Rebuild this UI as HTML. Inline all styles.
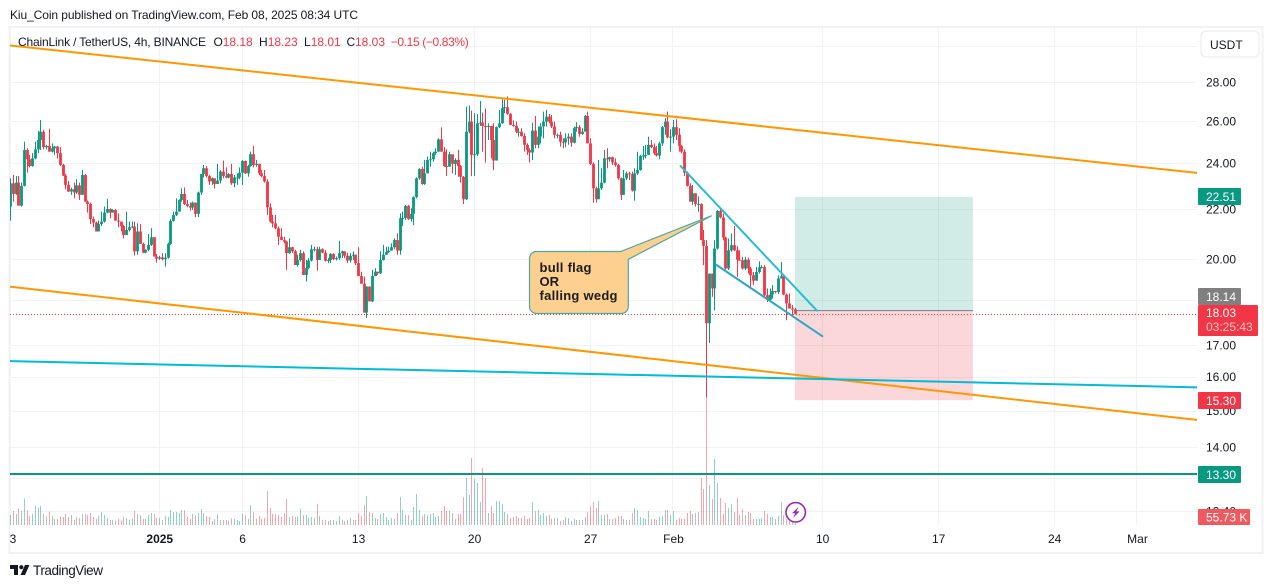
<!DOCTYPE html>
<html lang="en">
<head>
<meta charset="utf-8">
<title>ChainLink / TetherUS chart</title>
<style>
html,body{margin:0;padding:0;background:#fff;width:1273px;height:588px;overflow:hidden}
svg{display:block;font-family:"Liberation Sans",Arial,sans-serif}
</style>
</head>
<body>
<svg id="chart" xmlns="http://www.w3.org/2000/svg" width="1273" height="588" viewBox="0 0 1273 588">
  <defs>
    <clipPath id="plot-clip"><rect x="10" y="28" width="1187" height="524"/></clipPath>
  </defs>
  <rect width="1273" height="588" fill="#fff"/>
  <text x="10" y="19" font-size="12" fill="#131722" textLength="348">Kiu_Coin published on TradingView.com, Feb 08, 2025 08:34 UTC</text>
  <rect x="9.5" y="27" width="1253" height="526" fill="none" stroke="#f1f2f4" stroke-width="2"/>
  <g id="grid"></g>
  <g id="plot" clip-path="url(#plot-clip)">
    <g id="volumes"></g>
    <g id="candles"></g>
    <g id="tools"></g>
  </g>
  <g>
    <path d="M536.5 251.5H620.7L711.7 215.7L628.3 259.3V306.5a7 7 0 0 1-7 7H536.5a7 7 0 0 1-7-7V258.5a7 7 0 0 1 7-7Z" fill="#fdd08f" stroke="#4fa8a0" stroke-width="1.2"/>
    <text x="539.5" y="272" font-size="13" font-weight="700" fill="#1c1c1c" textLength="52">bull flag</text>
    <text x="539.5" y="286" font-size="13" font-weight="700" fill="#1c1c1c">OR</text>
    <text x="539.5" y="300" font-size="13" font-weight="700" fill="#1c1c1c" textLength="78">falling wedg</text>
  </g>
  <g font-size="12">
    <text x="18" y="46" fill="#131722" textLength="188">ChainLink / TetherUS, 4h, BINANCE</text>
    <text x="213.5" y="46" fill="#131722">O</text>
    <text x="222.7" y="46" fill="#f23645">18.18</text>
    <text x="259" y="46" fill="#131722">H</text>
    <text x="267.7" y="46" fill="#f23645">18.23</text>
    <text x="304" y="46" fill="#131722">L</text>
    <text x="310.7" y="46" fill="#f23645">18.01</text>
    <text x="346.5" y="46" fill="#131722">C</text>
    <text x="355" y="46" fill="#f23645">18.03</text>
    <text x="390.7" y="46" fill="#f23645" textLength="78">−0.15 (−0.83%)</text>
  </g>
  <g id="price-axis"></g>
  <g id="time-axis"></g>
  <g>
    <rect x="1201" y="31" width="58" height="26" rx="5" fill="#fff" stroke="#f0f1f4" stroke-width="1.5"/>
    <text x="1210" y="49" font-size="12" fill="#131722">USDT</text>
  </g>
  <g font-size="12" fill="#fff">
    <rect x="1198" y="188" width="43" height="17" rx="1" fill="#089981"/>
    <text x="1206" y="201">22.51</text>
    <rect x="1198" y="288" width="43" height="17" rx="1" fill="#808080"/>
    <text x="1206" y="301">18.14</text>
    <rect x="1198" y="305" width="60" height="31" rx="1" fill="#f23645"/>
    <text x="1206" y="317">18.03</text>
    <text x="1206" y="331" fill="#fbc4c8">03:25:43</text>
    <rect x="1198" y="392" width="43" height="17" rx="1" fill="#f23645"/>
    <text x="1206" y="405">15.30</text>
    <rect x="1198" y="466" width="43" height="17" rx="1" fill="#089981"/>
    <text x="1206" y="479">13.30</text>
    <rect x="1198" y="509" width="52" height="16" rx="1" fill="#f05a5f"/>
    <text x="1206" y="521.5">55.73 K</text>
  </g>
  <g>
    <circle cx="795.7" cy="512.3" r="9.7" fill="#fff" stroke="#9c27b0" stroke-width="1.6"/>
    <path d="M798.6 506.8L792 513.3h3.2L793 518l6.6-6.6h-3.2Z" fill="#9c27b0"/>
  </g>
  <g>
    <path d="M10 565h8v10h-4v-6h-4Z M29.5 565L25 575h-4.5L25 565Z" fill="#131722"/>
    <circle cx="21.3" cy="567.2" r="2.1" fill="#131722"/>
    <text x="33" y="575" font-size="13.5" fill="#131722" textLength="70">TradingView</text>
  </g>
</svg>
<script>
const firstOpen = 22.10;
const closes = [
23.10,22.64,23.13,22.14,22.99,24.61,24.18,23.87,24.22,24.64,
25.08,25.48,24.74,24.80,24.53,24.69,24.77,24.46,23.92,23.44,
23.03,22.74,22.84,22.70,23.01,22.60,23.47,22.31,22.21,21.58,
21.44,21.08,21.38,21.48,21.85,22.00,21.85,21.96,21.52,21.48,
21.30,20.94,21.14,21.25,21.28,20.30,21.08,20.59,20.25,20.36,
20.55,20.85,20.10,20.02,20.07,20.00,20.06,20.59,21.51,21.75,
21.89,22.38,22.64,22.21,22.13,22.06,22.27,21.80,22.70,23.51,
23.77,23.42,23.18,23.32,23.07,23.22,23.62,23.42,23.35,23.51,
23.10,23.36,23.36,23.57,24.10,23.54,23.87,24.41,23.92,23.97,
23.54,23.42,23.18,22.07,21.48,21.41,21.21,20.87,20.74,20.68,
20.23,20.46,20.30,19.78,19.97,20.23,19.41,19.66,19.95,20.38,
20.38,19.97,20.38,20.25,19.94,19.97,20.20,20.00,20.04,20.23,
20.30,20.13,19.95,20.13,20.17,19.85,19.37,19.09,18.07,18.99,
18.46,19.37,19.53,19.47,19.97,20.17,20.27,20.33,20.46,20.74,
20.33,21.62,21.63,22.13,21.58,21.80,22.50,23.32,23.74,23.07,
23.54,24.15,24.18,24.46,24.53,25.11,24.53,23.87,23.84,24.41,
23.97,24.15,23.87,23.39,22.41,25.48,25.97,24.38,24.41,25.89,
25.92,25.76,25.73,25.76,25.08,24.12,25.70,25.89,26.64,26.69,
26.36,25.81,25.76,25.48,25.48,25.27,24.85,24.61,24.49,25.53,
24.85,25.24,25.73,25.97,26.22,25.97,25.73,25.33,25.33,25.00,
24.97,25.16,25.24,24.95,25.65,25.70,25.37,25.48,26.25,24.92,
23.97,22.88,22.41,22.88,23.13,24.22,24.18,24.27,24.03,23.92,
23.32,22.60,23.32,23.54,23.51,22.78,23.54,23.69,24.33,24.35,
24.38,24.85,24.74,24.46,24.35,24.92,25.70,25.97,25.21,25.24,
25.70,25.33,24.80,24.53,23.57,22.99,22.31,22.67,22.21,22.21,
20.74,20.51,17.71,19.46,18.92,20.41,21.92,21.65,20.84,19.65,
20.34,20.54,20.34,19.98,19.96,19.65,19.98,19.65,19.40,19.20,
19.52,19.69,19.71,18.68,18.52,18.70,18.83,18.79,19.28,19.36,
18.70,18.39,18.21,18.18,18.03];
const highs = [
23.32,23.47,23.42,23.42,23.13,25.00,24.69,24.38,24.46,25.00,
25.52,26.05,25.57,24.85,25.62,24.92,24.80,24.80,24.74,23.97,
23.51,23.20,22.91,23.13,23.28,23.13,23.69,23.51,22.36,22.27,
21.69,21.48,21.52,21.89,22.10,22.43,22.03,21.99,21.99,21.82,
21.48,21.34,21.89,21.48,21.48,21.48,21.41,21.38,20.64,20.38,
20.98,21.21,20.85,20.20,20.13,20.23,20.23,20.64,21.58,21.89,
22.45,22.41,22.88,22.92,22.38,22.27,22.31,22.27,22.74,23.51,
23.92,23.87,23.47,23.36,23.32,23.97,23.69,24.12,23.81,23.54,
23.97,23.47,23.54,23.81,24.15,24.12,23.92,24.53,24.80,24.15,
23.92,23.69,23.69,23.28,22.24,21.76,21.76,21.28,21.21,20.87,
20.71,20.81,20.48,20.36,20.17,20.36,20.30,19.97,20.04,20.55,
20.48,20.48,20.48,20.42,20.36,20.04,20.23,20.23,20.10,20.71,
20.33,20.30,20.25,20.23,20.30,20.17,20.46,19.53,19.35,18.99,
18.99,19.60,19.66,19.53,20.30,20.55,20.48,20.48,20.61,20.81,
21.01,21.82,21.89,22.17,22.17,22.03,22.53,23.36,23.77,23.84,
24.15,24.30,24.53,24.53,24.69,25.16,25.69,24.74,24.64,24.53,
24.22,24.22,24.61,23.92,23.42,26.72,26.77,26.52,26.39,26.35,
27.01,26.42,26.63,25.89,25.24,25.89,25.73,26.55,27.15,27.07,
27.24,26.39,26.03,25.97,25.65,25.65,25.40,24.92,24.69,25.92,
26.25,25.73,25.89,26.47,26.55,26.35,26.30,25.97,25.40,25.48,
25.16,25.40,25.40,25.40,25.73,25.94,25.81,25.65,26.30,26.47,
25.16,24.03,22.96,24.15,23.77,24.61,24.69,24.30,24.30,24.22,
23.97,23.36,23.69,23.62,23.62,23.62,23.77,24.53,24.38,24.80,
24.85,25.24,25.08,24.92,24.80,25.00,25.76,26.14,26.47,25.60,
26.05,26.09,25.65,24.85,24.64,23.62,23.10,23.03,22.60,22.53,
22.24,21.14,20.74,19.46,19.46,20.73,21.95,22.06,21.81,20.87,
20.80,21.00,21.30,20.50,20.34,20.09,20.09,20.06,19.71,19.52,
19.71,19.92,19.77,19.77,18.92,18.92,19.04,18.83,19.40,19.89,
19.40,18.74,18.74,18.33,18.23];
const lows = [
21.52,22.31,22.60,22.14,22.10,22.96,23.57,23.81,23.84,24.18,
24.46,24.61,24.64,24.64,24.53,24.49,24.38,24.22,23.87,23.42,
22.84,22.72,22.60,22.45,22.64,22.38,22.60,22.31,21.85,21.38,
21.25,21.08,21.08,21.30,21.44,21.82,21.62,21.85,21.52,21.25,
21.08,20.81,20.94,21.08,21.21,20.14,20.17,20.59,20.23,20.23,
20.30,20.51,20.10,19.87,19.97,19.95,19.72,20.02,20.55,21.48,
21.71,21.89,22.31,22.17,22.07,21.93,21.96,21.66,21.66,22.60,
23.36,23.36,23.03,23.03,22.88,23.07,23.10,23.32,23.32,23.32,
23.03,22.93,23.03,23.28,23.03,23.51,23.39,23.84,23.81,23.84,
23.47,23.36,23.13,21.76,21.44,21.25,21.17,20.55,20.74,20.61,
19.60,20.20,20.23,19.78,19.72,19.91,19.41,19.17,19.62,19.91,
20.30,19.57,19.97,20.23,19.91,19.85,19.85,19.97,19.95,19.97,
20.04,20.04,19.85,19.87,19.97,19.78,19.37,19.09,18.07,17.89,
18.46,18.44,19.41,19.41,19.45,19.95,20.17,20.23,20.33,20.38,
20.17,20.17,21.30,21.55,21.55,21.48,21.34,22.45,23.25,23.03,
23.03,23.54,23.84,24.07,24.38,24.53,24.53,23.84,23.42,23.84,
23.54,23.47,23.39,23.13,22.21,22.38,25.40,23.42,23.42,24.33,
25.76,24.53,24.03,25.08,24.22,23.69,24.12,25.65,25.86,26.39,
26.31,25.81,25.73,25.40,25.24,25.24,24.53,24.38,24.03,24.15,
24.69,24.69,24.92,25.16,25.73,25.89,25.65,25.16,25.16,24.77,
24.69,24.74,24.85,24.77,24.92,25.48,25.24,25.33,25.48,24.92,
23.92,22.27,22.27,22.45,22.81,23.10,23.77,24.07,23.92,23.84,
23.25,22.38,22.60,23.25,23.25,22.74,22.35,23.47,23.66,24.15,
24.22,24.38,24.69,24.38,24.30,24.18,24.80,25.33,25.16,24.53,
24.92,25.08,24.53,24.46,23.42,22.96,22.31,22.17,22.10,21.89,
20.74,19.78,15.40,17.06,18.62,18.15,20.37,21.61,20.73,19.61,
19.59,20.28,20.31,19.34,19.96,19.61,19.59,19.46,18.98,19.04,
19.20,19.46,19.65,18.56,18.44,18.44,18.56,18.74,18.72,19.28,
18.68,17.81,18.21,17.92,18.01];
const volumes = [
300,420,330,500,420,800,450,270,330,570,
520,570,330,270,400,270,180,180,240,240,
330,240,300,160,240,210,330,330,300,360,
240,180,270,390,300,210,150,150,130,180,
130,240,210,160,180,420,330,300,180,180,
300,360,330,210,210,150,270,240,450,390,
390,360,450,450,240,180,330,290,360,480,
360,270,240,120,180,330,150,150,150,130,
200,180,150,120,330,300,180,600,390,180,
270,180,210,1020,510,330,330,300,240,360,
780,240,270,240,270,480,300,300,210,240,
210,630,270,150,150,120,150,150,120,270,
150,120,150,210,150,150,360,270,600,870,
390,360,210,180,330,360,240,150,210,180,
360,840,450,300,300,150,540,930,450,270,
330,290,330,360,240,270,420,570,420,420,
360,180,330,330,840,1410,900,2010,1380,1260,
690,1710,1410,360,570,360,720,720,630,390,
330,210,240,270,210,210,270,180,210,690,
420,450,300,360,270,300,180,210,210,120,
150,240,210,120,180,150,150,150,240,390,
540,690,510,720,300,300,330,180,180,210,
270,270,180,150,150,360,510,450,240,210,
180,420,180,180,150,240,270,450,450,300,
420,150,210,180,180,360,420,330,360,390,
1410,1080,3870,1200,780,1980,1260,810,330,660,
510,630,390,810,300,480,300,390,360,180,
180,180,210,420,330,240,240,180,270,690,
300,180,120,90,55.73];
const priceTicks = [30, 28, 26, 24, 22, 20, 18.5, 17, 16, 15, 14, 13.2, 12.4];
const timeBars = [0, 54, 84, 126, 168, 210, 240, 294, 336, 378, 408];
const timeLabels = ["23", "2025", "6", "13", "20", "27", "Feb", "10", "17", "24", "Mar"];
const boldTimeLabels = ["2025"];
const channelTopBars = [0, 429.5];
const channelTopPrices = [30.01, 23.56];
const channelBottomBars = [0, 429.5];
const channelBottomPrices = [18.98, 14.74];
const supportCurveBars = [0, 429.5];
const supportCurvePrices = [16.48, 15.68];
const wedgeTopBars = [242.6, 291.9];
const wedgeTopPrices = [23.87, 18.14];
const wedgeBottomBars = [255.6, 293.9];
const wedgeBottomPrices = [19.78, 17.28];
const supportPrice = 13.30;
const positionBars = [284, 348.4];
const targetPrice = 22.51;
const entryPrice = 18.14;
const stopPrice = 15.30;

const UP = '#089981';
const DOWN = '#f23645';
const NS = 'http://www.w3.org/2000/svg';
function xAt(bar) { return 10.6 + 2.762 * bar; }
function yAt(price) { return 82 + 526.6 * Math.log(28 / price); }
function volH(v) { return v / 30; }
function make(tag, attrs, parent) {
  const el = document.createElementNS(NS, tag);
  for (const k in attrs) el.setAttribute(k, attrs[k]);
  parent.appendChild(el);
  return el;
}
const grid = document.getElementById('grid');
const priceAxis = document.getElementById('price-axis');
const timeAxis = document.getElementById('time-axis');
const volG = document.getElementById('volumes');
const candleG = document.getElementById('candles');
const tools = document.getElementById('tools');

priceTicks.forEach(function (p) {
  const y = Math.round(yAt(p)) + 0.5;
  const line = make('line', { x1: 10, x2: 1197, y1: y, y2: y, stroke: '#f1f2f4', 'stroke-width': 1 }, grid);
  
  
  const t = make('text', { x: 1206, y: yAt(p) + 4.5, 'font-size': 12, fill: '#131722' }, priceAxis);
  t.textContent = p.toFixed(2);
  
  
});

timeBars.forEach(function (b, i) {
  const x = xAt(b);
  const line = make('line', { x1: Math.round(x) - 0.5, x2: Math.round(x) - 0.5, y1: 28, y2: 525, stroke: '#f1f2f4', 'stroke-width': 1 }, grid);
  
  
  const isBold = boldTimeLabels.indexOf(timeLabels[i]) >= 0;
  const t = make('text', { x: i === 0 ? x - 1 : x, y: 543, 'font-size': 12, 'text-anchor': 'middle', fill: '#131722', 'font-weight': isBold ? 700 : 400, 'clip-path': 'url(#plot-clip)' }, timeAxis);
  t.textContent = timeLabels[i];
  
  
});

closes.forEach(function (c, i) {
  const o = i === 0 ? firstOpen : closes[i - 1];
  const col = c >= o ? UP : DOWN;
  const px = Math.round(xAt(i) - 0.5);
  const vh = volH(volumes[i]);
  const vol = make('rect', { x: px, y: 525 - vh, width: 1, height: vh, fill: col, 'fill-opacity': 0.45 }, volG);
  
  
  const wick = make('rect', { x: px, y: yAt(highs[i]), width: 1, height: yAt(lows[i]) - yAt(highs[i]), fill: col }, candleG);
  
  
  const top = Math.min(yAt(o), yAt(c));
  const h = Math.max(Math.abs(yAt(o) - yAt(c)), 1);
  const body = make('rect', { x: px - 0.9, y: top, width: 2.8, height: h, fill: col }, candleG);
  
  
});

const lastLine = make('line', { x1: 10, x2: 1197, y1: Math.round(yAt(closes[closes.length - 1])) + 0.5, y2: Math.round(yAt(closes[closes.length - 1])) + 0.5, stroke: DOWN, 'stroke-width': 1, 'stroke-dasharray': '1 2' }, candleG);



const profitZone = make('rect', { x: xAt(positionBars[0]), width: xAt(positionBars[1]) - xAt(positionBars[0]), y: yAt(targetPrice), height: yAt(entryPrice) - yAt(targetPrice), fill: UP, 'fill-opacity': 0.19 }, tools);


const lossZone = make('rect', { x: xAt(positionBars[0]), width: xAt(positionBars[1]) - xAt(positionBars[0]), y: yAt(entryPrice), height: yAt(stopPrice) - yAt(entryPrice), fill: DOWN, 'fill-opacity': 0.2 }, tools);


const entryLine = make('line', { x1: xAt(positionBars[0]), x2: xAt(positionBars[1]), y1: yAt(entryPrice), y2: yAt(entryPrice), stroke: '#787b86', 'stroke-width': 1 }, tools);



function trend(bars, prices, color, width) {
  return make('line', { x1: xAt(bars[0]), y1: yAt(prices[0]), x2: xAt(bars[1]), y2: yAt(prices[1]), stroke: color, 'stroke-width': width, 'stroke-linecap': 'round' }, tools);
}
const channelTop = trend(channelTopBars, channelTopPrices, '#ff9800', 2);


const channelBottom = trend(channelBottomBars, channelBottomPrices, '#ff9800', 2);


const supportCurve = trend(supportCurveBars, supportCurvePrices, '#00bcd4', 2);


const wedgeTop = trend(wedgeTopBars, wedgeTopPrices, '#26bcd4', 2);


const wedgeBottom = trend(wedgeBottomBars, wedgeBottomPrices, '#26a9c8', 2);


const supportLine = make('line', { x1: 10, x2: 1197, y1: yAt(supportPrice), y2: yAt(supportPrice), stroke: UP, 'stroke-width': 2 }, tools);


</script>
</body>
</html>
